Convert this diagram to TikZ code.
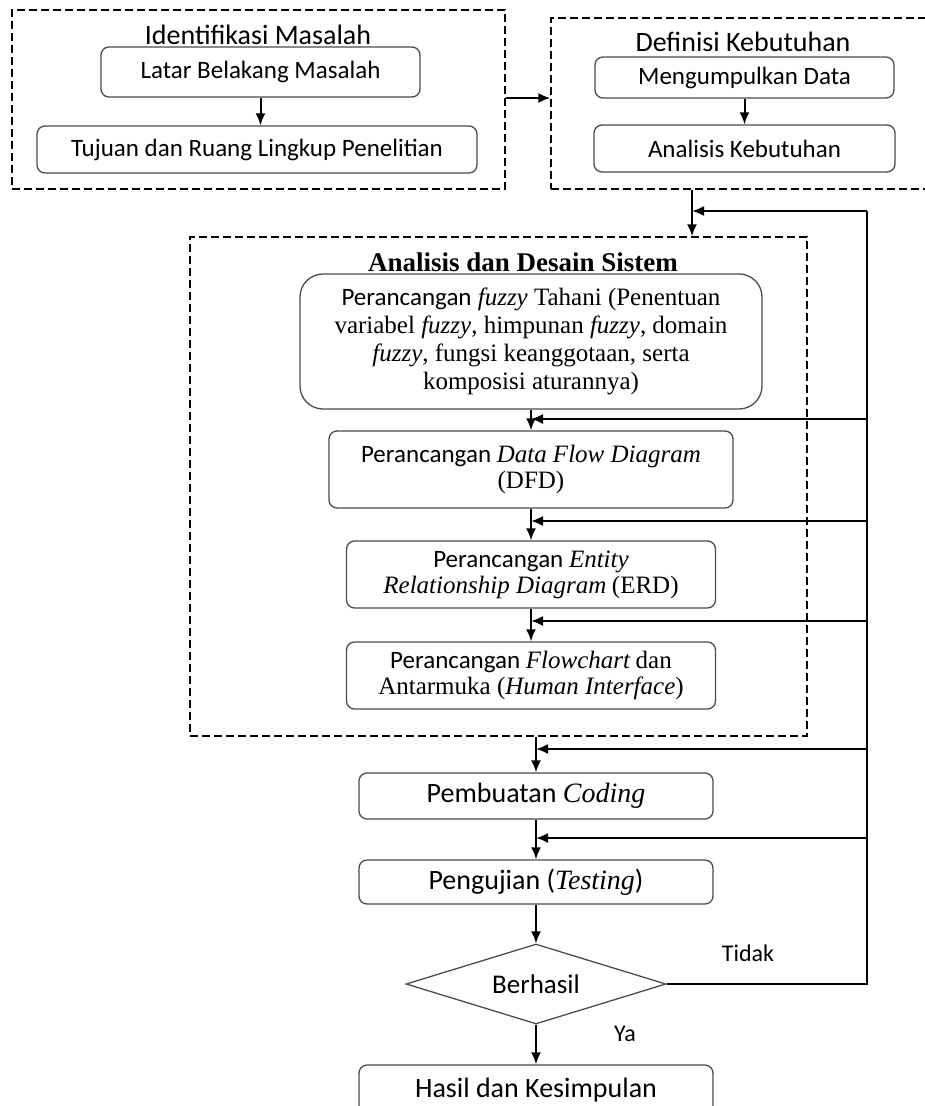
\documentclass[tikz,border=0pt]{standalone}
\usepackage{fontspec}
\setmainfont{Carlito}
\newfontfamily\tnr{Liberation Serif}
\usetikzlibrary{shapes.geometric, arrows.meta, positioning}

\newcommand{\ital}[1]{{\tnr\itshape #1}}

\begin{document}
\begin{tikzpicture}[
  x=1pt, y=-1pt,
  process/.style={rectangle, rounded corners=8pt, draw=black!70, line width=1.3pt, align=center, inner sep=0pt, font=\fontsize{25}{26}\selectfont},
  final/.style={process, font=\fontsize{28}{30}\selectfont},
  phase/.style={rectangle, draw=black, line width=1.4pt, dash pattern=on 8pt off 4pt, inner sep=0pt},
  title/.style={font=\fontsize{28}{30}\selectfont},
  decision/.style={diamond, draw=black!70, line width=1.3pt, aspect=3.25, inner sep=0pt, minimum width=260pt, minimum height=80pt, font=\fontsize{27}{29}\selectfont},
  arrow/.style={-{Latex[length=12pt, width=10pt]}, line width=2pt},
  wire/.style={line width=2pt}
]

\useasboundingbox (0,0) rectangle (925,1106);

% Phases
\node[phase, minimum width=493pt, minimum height=179pt] (identifikasi) at (258.5,99.5) {};
\node[phase, minimum width=384pt, minimum height=171pt] (definisi) at (743,103.5) {};
\node[phase, minimum width=617pt, minimum height=499pt] (desain) at (498.5,486.5) {};

\node[title] (tIdentifikasi) at (258,35) {Identifikasi Masalah};
\node[title] (tDefinisi) at (743,42) {Definisi Kebutuhan};
\node[title, font=\tnr\bfseries\fontsize{27}{29}\selectfont] (tDesain) at (523,262) {Analisis dan Desain Sistem};

% Nodes
\node[process, minimum width=319pt, minimum height=50pt] (latar) at (260.5,72) {Latar Belakang Masalah};
\node[process, minimum width=440pt, minimum height=47pt] (tujuan) at (257,149.5) {Tujuan dan Ruang Lingkup Penelitian};

\node[process, minimum width=299pt, minimum height=41pt] (kumpul) at (744.5,77.5) {Mengumpulkan Data};
\node[process, minimum width=301pt, minimum height=47pt] (kebutuhan) at (744.5,148.5) {Analisis Kebutuhan};

\node[process, rounded corners=23pt, minimum width=462pt, minimum height=135pt, font=\tnr\fontsize{25}{28}\selectfont] (fuzzy) at (531,341.5)
  {{\rmfamily Perancangan} \textit{fuzzy} Tahani (Penentuan\\ variabel \textit{fuzzy}, himpunan \textit{fuzzy}, domain\\ \textit{fuzzy}, fungsi keanggotaan, serta\\ komposisi aturannya)};
\node[process, minimum width=404pt, minimum height=77pt] (dfd) at (531,469.5) {Perancangan \ital{Data Flow Diagram}\\ {\tnr (DFD)}};
\node[process, minimum width=369pt, minimum height=67pt] (erd) at (531,574.5) {Perancangan \ital{Entity}\\ \ital{Relationship Diagram} {\tnr (ERD)}};
\node[process, minimum width=369pt, minimum height=67pt] (flowchart) at (531,675.5) {Perancangan \ital{Flowchart} {\tnr dan}\\ {\tnr Antarmuka (\textit{Human Interface})}};

\node[final, minimum width=354pt, minimum height=46pt] (coding) at (536,796) {Pembuatan \ital{Coding}};
\node[final, minimum width=354pt, minimum height=44pt] (testing) at (536,882) {Pengujian (\ital{Testing})};
\node[decision] (berhasil) at (536,984) {Berhasil};
\node[final, minimum width=354pt, minimum height=50pt] (hasil) at (536,1090) {Hasil dan Kesimpulan};

\node[font=\fontsize{24}{26}\selectfont] (tidak) at (748,953) {Tidak};
\node[font=\fontsize{24}{26}\selectfont] (ya) at (625,1034) {Ya};

% Junctions of the return line
\coordinate (rail) at (867,984);
\coordinate (j1) at (692,211);
\coordinate (j2) at (531,419);
\coordinate (j3) at (531,521);
\coordinate (j4) at (531,621);
\coordinate (j5) at (536,749);
\coordinate (j6) at (536,838);

% Arrows
\draw[arrow] (latar) -- (tujuan.north -| latar);
\draw[arrow] (kumpul) -- (kebutuhan.north -| kumpul);
\draw[arrow] (identifikasi.east |- 0,98) -- (definisi.west |- 0,98);
\draw[arrow] (definisi.south -| j1) -- (desain.north -| j1);
\draw[arrow] (fuzzy) -- (dfd);
\draw[arrow] (dfd) -- (erd);
\draw[arrow] (erd) -- (flowchart);
\draw[arrow] (desain.south -| coding) -- (coding);
\draw[arrow] (coding) -- (testing);
\draw[arrow] (testing) -- (berhasil);
\draw[arrow] (berhasil) -- (hasil);

\draw[wire] (berhasil.east) -- (rail) -- (rail |- j1);
\draw[arrow] (rail |- j1) -- (j1);
\draw[arrow] (rail |- j2) -- (j2);
\draw[arrow] (rail |- j3) -- (j3);
\draw[arrow] (rail |- j4) -- (j4);
\draw[arrow] (rail |- j5) -- (j5);
\draw[arrow] (rail |- j6) -- (j6);

\end{tikzpicture}
\end{document}
